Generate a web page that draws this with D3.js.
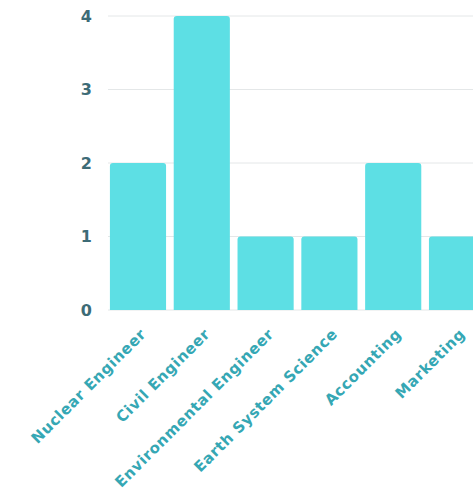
<!DOCTYPE html>
<html>
<head>
<meta charset="utf-8">
<script src="https://cdn.jsdelivr.net/npm/d3@7"></script>
<style>
  body { margin: 0; background: #fff; }
  svg { display: block; font-family: "DejaVu Sans", Verdana, sans-serif; }
</style>
</head>
<body>
<div id="chart"></div>
<script>
const majors = ["Nuclear Engineer", "Civil Engineer", "Environmental Engineer", "Earth System Science", "Accounting", "Marketing"];
const counts = [2, 4, 1, 1, 2, 1];
const yTicks = [0, 1, 2, 3, 4];

const width = 473, height = 496;
const margin = { top: 16, left: 108, bottom: 186 }; // plot ends at y=310

const svg = d3.select("#chart").append("svg")
    .attr("width", width)
    .attr("height", height);

const x = d3.scaleBand()
    .domain(majors)
    .range([margin.left, 487]) // last bar runs off the right edge like the source
    .paddingInner(0.12)
    .paddingOuter(0.03);

const y = d3.scaleLinear()
    .domain([0, 4])
    .range([height - margin.bottom, margin.top]);

// grid
svg.append("g")
  .selectAll("line")
  .data(yTicks)
  .join("line")
    .attr("x1", margin.left)
    .attr("x2", width)
    .attr("y1", d => y(d))
    .attr("y2", d => y(d))
    .attr("stroke", "#e4e7e8")
    .attr("stroke-width", 1);

// y labels
svg.append("g")
  .selectAll("text")
  .data(yTicks)
  .join("text")
    .attr("x", 92)
    .attr("y", d => y(d))
    .attr("dy", "0.36em")
    .attr("text-anchor", "end")
    .attr("fill", "#3d6b76")
    .style("font-size", "16px")
    .style("font-weight", "bold")
    .text(d => d);

// bars with rounded tops
const r = 3;
svg.append("g")
  .selectAll("path")
  .data(majors.map((m, i) => ({ m, v: counts[i] })))
  .join("path")
    .attr("fill", "#5ddfe4")
    .attr("d", d => {
      const x0 = x(d.m), x1 = x0 + x.bandwidth(), y0 = y(0), y1 = y(d.v);
      return `M${x0},${y0}V${y1 + r}Q${x0},${y1} ${x0 + r},${y1}H${x1 - r}Q${x1},${y1} ${x1},${y1 + r}V${y0}Z`;
    });

// x labels, rotated
svg.append("g")
  .selectAll("text")
  .data(majors)
  .join("text")
    .attr("transform", d => `translate(${x(d) + x.bandwidth() / 2 + 9},${y(0) + 25}) rotate(-45)`)
    .attr("text-anchor", "end")
    .attr("fill", "#35a7b4")
    .style("font-size", "15px")
    .style("font-weight", "bold")
    .style("letter-spacing", "0.6px")
    .text(d => d);
</script>
</body>
</html>
